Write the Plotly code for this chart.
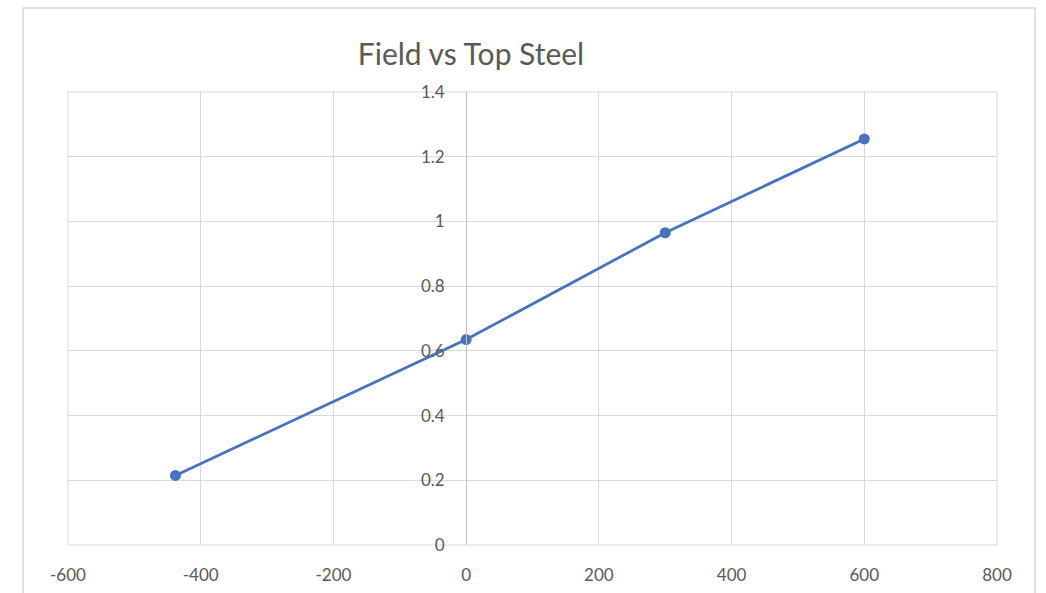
import plotly.graph_objects as go

# Field position vs top steel ratio
field = [-438, 0, 300, 600]
top_steel = [0.215, 0.635, 0.965, 1.255]

x_ticks = [-600, -400, -200, 0, 200, 400, 600, 800]
x_tick_labels = ["-600", "-400", "-200", "0", "200", "400", "600", "800"]

x_range = [-600, 800]
y_range = [0, 1.4]

W, H = 1046, 593
L, R, T, B = 68, 49, 92, 48
pw, ph = W - L - R, H - T - B

fig = go.Figure()
fig.add_trace(go.Scatter(
    x=field, y=top_steel, mode="lines+markers",
    line=dict(color="#4472C4", width=2.75),
    marker=dict(color="#4472C4", size=11),
    showlegend=False, hoverinfo="x+y",
))

grid = "#d9d9d9"
txt = "#595959"
font = "Lato, 'Open Sans', sans-serif"

y_pos = (0 - x_range[0]) / (x_range[1] - x_range[0])

fig.update_layout(
    width=W, height=H,
    margin=dict(l=L, r=R, t=T, b=B, autoexpand=False),
    paper_bgcolor="white", plot_bgcolor="white",
    title=dict(text="Field vs Top Steel", x=471 / W, xanchor="center", xref="container",
               y=1 - 54 / H, yanchor="middle", yref="container",
               font=dict(family=font, size=30, color=txt)),
    xaxis=dict(range=x_range, tickmode="array", tickvals=x_ticks, ticktext=x_tick_labels,
               showgrid=True, gridcolor=grid, gridwidth=1,
               zeroline=False, showline=False, ticks="",
               tickfont=dict(family=font, size=17, color=txt), ticklabelstandoff=18),
    yaxis=dict(range=y_range, dtick=0.2, tick0=0, showgrid=True, gridcolor=grid, gridwidth=1,
               zeroline=False, anchor="free", position=y_pos, showline=True,
               linecolor="#bfbfbf", linewidth=1, ticks="",
               tickfont=dict(family=font, size=17, color=txt), ticklabelstandoff=18),
    shapes=[
        # outer chart frame
        dict(type="rect", xref="paper", yref="paper",
             x0=(23 - L) / pw, x1=(1035 - L) / pw,
             y0=-(H + 10 - (T + ph)) / ph, y1=(T + ph - 8) / ph,
             line=dict(color=grid, width=1.5), fillcolor="rgba(0,0,0,0)", layer="below"),
        # plot-area edge gridlines
        dict(type="rect", xref="paper", yref="paper", x0=0, x1=1, y0=0, y1=1,
             line=dict(color=grid, width=1), fillcolor="rgba(0,0,0,0)", layer="below"),
    ],
)

fig.write_html("out.html")
